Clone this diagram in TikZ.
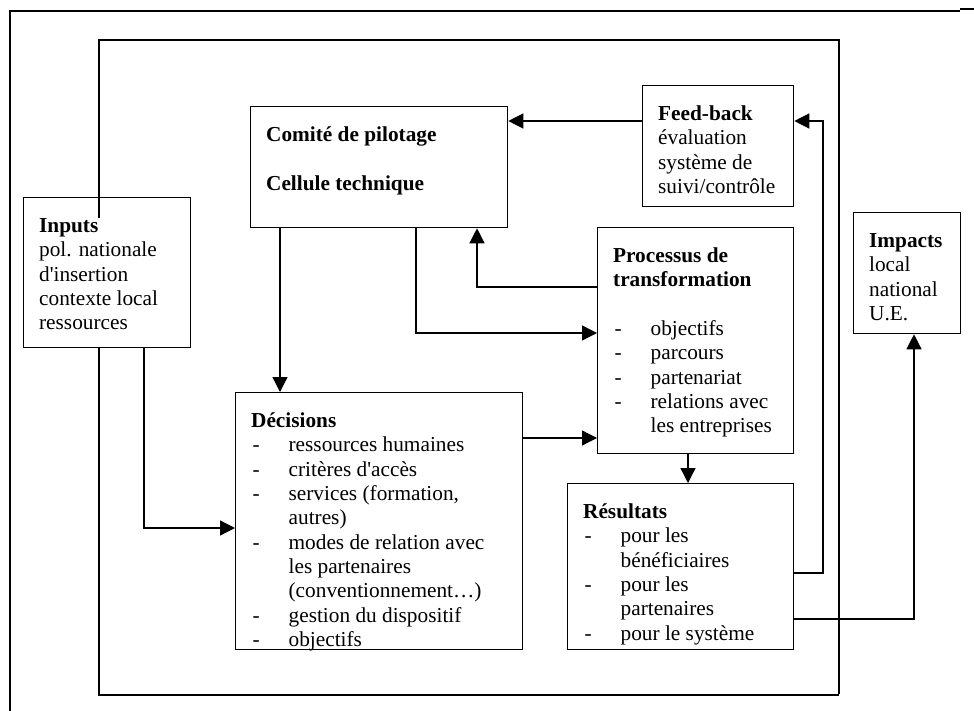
\documentclass[tikz,border=0pt]{standalone}
\usepackage{fontspec}
\setmainfont{Liberation Serif}[Ligatures=TeXOff]
\usetikzlibrary{arrows.meta}

\newlength{\tiret}
\setlength{\tiret}{37.5pt}
\newcommand{\li}[1]{\makebox[\tiret][l]{\hspace{1.5pt}-}#1}
\newcommand{\suite}[1]{\hspace*{\tiret}#1}
\newcommand{\bloc}[3]{\parbox[c][\dimexpr #2pt-36pt\relax][t]{\dimexpr #1pt-31pt\relax}{\raggedright\strut #3}}

\begin{document}
\begin{tikzpicture}[x=1pt,y=-1pt,
  cadre/.style={draw,line width=1.3pt,anchor=north west,inner xsep=15.5pt,inner ysep=18pt,
    font=\fontsize{21.3}{24.3}\selectfont},
  fleche/.style={line width=1.3pt,-{Triangle[length=15pt,width=15pt]}},
  trait/.style={line width=1.3pt}]
\useasboundingbox (0,0) rectangle (974,711);

\node[cadre] (IN) at (23,197) {\bloc{167}{150}{\textbf{Inputs}\\pol. nationale\\d'insertion\\contexte local\\ressources}};
\node[cadre] (CP) at (250,106) {\bloc{257}{121}{\textbf{Comité de pilotage}\\[24.3pt]\textbf{Cellule technique}}};
\node[cadre] (FB) at (642,85) {\bloc{151}{121}{\textbf{Feed-back}\\évaluation\\système de\\suivi/contrôle}};
\node[cadre] (PT) at (597,227) {\bloc{196}{226}{\textbf{Processus de}\\\textbf{transformation}\\[24.3pt]
  \li{objectifs}\\\li{parcours}\\\li{partenariat}\\\li{relations avec}\\\suite{les entreprises}}};
\node[cadre] (DE) at (235,392) {\bloc{287}{257}{\textbf{Décisions}\\\li{ressources humaines}\\\li{critères d'accès}\\
  \li{services (formation,}\\\suite{autres)}\\\li{modes de relation avec}\\\suite{les partenaires}\\
  \suite{(conventionnement…)}\\\li{gestion du dispositif}\\\li{objectifs}}};
\node[cadre] (RE) at (567,483) {\bloc{226}{166}{\textbf{Résultats}\\\li{pour les}\\\suite{bénéficiaires}\\
  \li{pour les}\\\suite{partenaires}\\\li{pour le système}}};
\node[cadre] (IM) at (853,212) {\bloc{107}{121}{\textbf{Impacts}\\local\\national\\U.E.}};

\draw[trait] (10,711) -- (10,11) -- (960,11);
\draw[trait] (960,9) -- (974,9);
\draw[trait] (99,218) -- (99,40) -- (839,40) -- (839,694);
\draw[trait] (IN.south -| 99,0) -- (99,695) -- (839,695);

\draw[fleche] (FB.west |- 0,121) -- (CP.east |- 0,121);
\draw[fleche] (RE.east |- 0,573) -| (823,121) -- (FB.east |- 0,121);
\draw[fleche] (PT.west |- 0,287) -| (CP.south -| 477,0);
\draw[fleche] (CP.south -| 416,0) |- (PT.west |- 0,333);
\draw[fleche] (CP.south -| 280,0) -- (DE.north -| 280,0);
\draw[fleche] (IN.south -| 144,0) |- (DE.west |- 0,528);
\draw[fleche] (DE.east |- 0,438) -- (PT.west |- 0,438);
\draw[fleche] (PT.south -| 688,0) -- (RE.north -| 688,0);
\draw[fleche] (RE.east |- 0,619) -| (IM.south -| 914,0);
\end{tikzpicture}
\end{document}
